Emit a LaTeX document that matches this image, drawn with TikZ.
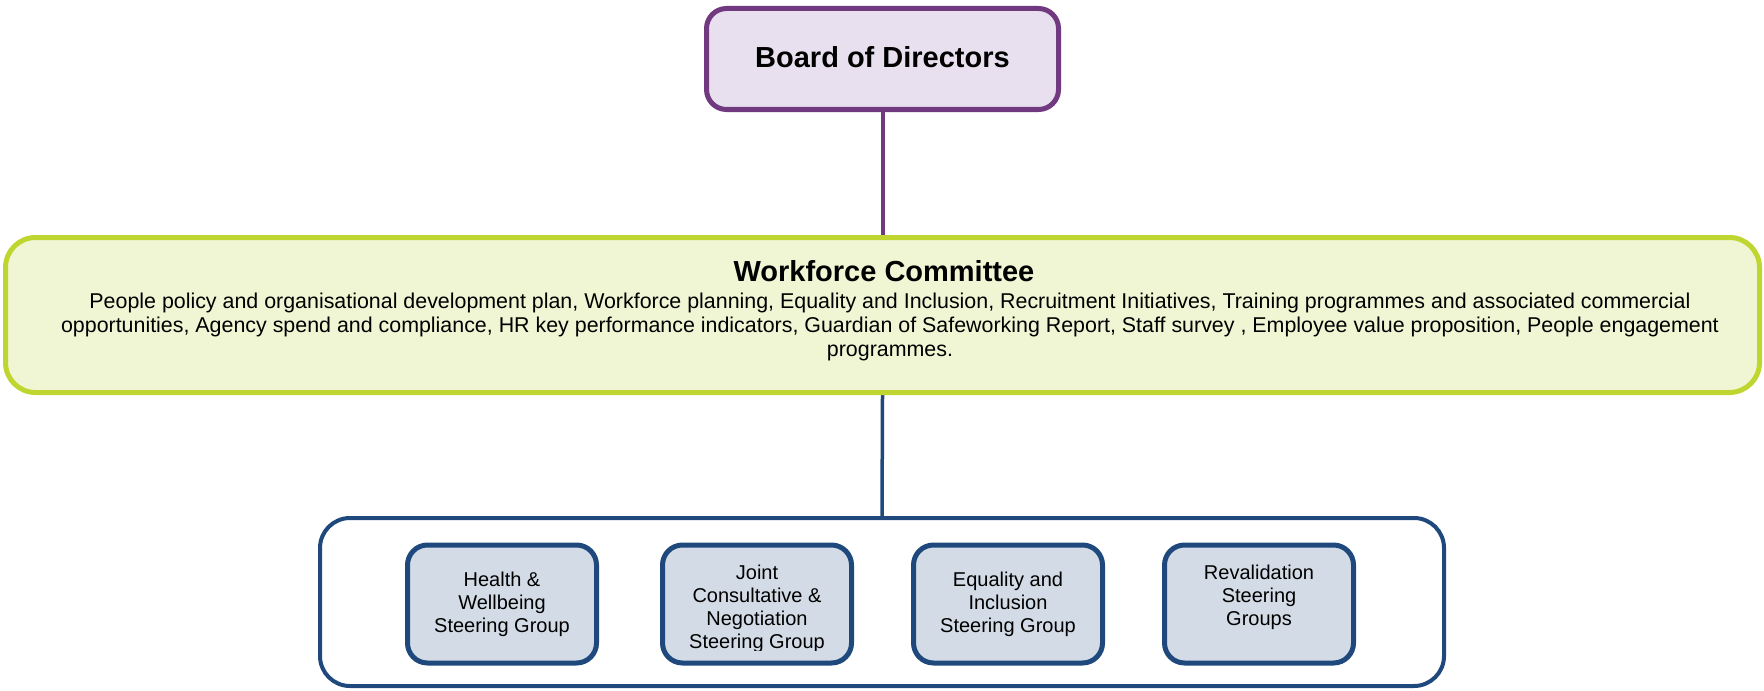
\documentclass[tikz,border=0pt]{standalone}
\usepackage{fontspec}
\setmainfont{Liberation Sans}
\usetikzlibrary{backgrounds}
\definecolor{bodline}{HTML}{71397F}
\definecolor{bodfill}{HTML}{E8E0EE}
\definecolor{wfcline}{HTML}{C0D630}
\definecolor{wfcfill}{HTML}{F0F6D4}
\definecolor{grpline}{HTML}{1F497D}
\definecolor{grpfill}{HTML}{D3DCE6}
\begin{document}
\begin{tikzpicture}[x=0.5pt,y=-0.5pt,
	bodbox/.style={draw=bodline,fill=bodfill,line width=2.5pt,rounded corners=10pt,minimum width=176pt,minimum height=50.5pt,inner sep=0pt},
	wfcbox/.style={draw=wfcline,fill=wfcfill,line width=2.5pt,rounded corners=15pt,minimum width=877pt,minimum height=77.5pt,inner sep=0pt},
	outerbox/.style={draw=grpline,line width=2pt,rounded corners=15pt,minimum width=562pt,minimum height=84pt,inner sep=0pt},
	grpbox/.style={draw=grpline,fill=grpfill,line width=2.5pt,rounded corners=10pt,minimum width=94.5pt,minimum height=59pt,inner sep=0pt},
	titletext/.style={font=\fontsize{14.5}{17}\selectfont\bfseries},
	bodytext/.style={align=center,font=\fontsize{10.7}{11.8}\selectfont,inner sep=0pt},
	grptext/.style={align=center,font=\fontsize{10}{11.5}\selectfont,inner sep=0pt}]

		\useasboundingbox (0,0) rectangle (1764,690);

		\node[bodbox] (bod) at (882.5,59) {};
		\node[titletext] (bodtitle) at (882.5,57) {Board of Directors};

		\node[wfcbox] (wfc) at (882.5,315) {};
		\node[titletext] (wfctitle) at (884,271) {Workforce Committee};
		\node[bodytext] (wfcbody) at (890,327) {People policy and organisational development plan, Workforce planning, Equality and Inclusion, Recruitment Initiatives, Training programmes and associated commercial\\opportunities, Agency spend and compliance, HR key performance indicators, Guardian of Safeworking Report, Staff survey , Employee value proposition, People engagement\\programmes.};

		\node[outerbox] (grp) at (882,602) {};

		\node[grpbox,grptext] (hwb) at (502,604) {Health \&\\Wellbeing\\Steering Group};
		\node[grpbox] (jcn) at (757,604) {};
		\node[grpbox,grptext] (eqi) at (1008,604) {Equality and\\Inclusion\\Steering Group};
		\node[grpbox] (rev) at (1259,604) {};

		\begin{scope}
			\clip ([xshift=3pt,yshift=7.5pt]jcn.south west) rectangle ([xshift=-3pt,yshift=-3pt]jcn.north east);
			\node[grptext,anchor=north] (jcntext) at ([yshift=-11pt]jcn.north) {Joint\\Consultative \&\\Negotiation\\Steering Group};
		\end{scope}
		\node[grptext,anchor=north] (revtext) at ([yshift=-11pt]rev.north) {Revalidation\\Steering\\Groups};

		\begin{scope}[on background layer]
			\draw[bodline,line width=2pt] (bod.south) -- (wfc.north);
			\draw[grpline,line width=1.75pt] (wfc.south) -- (grp.north);
		\end{scope}
	\end{tikzpicture}
\end{document}
